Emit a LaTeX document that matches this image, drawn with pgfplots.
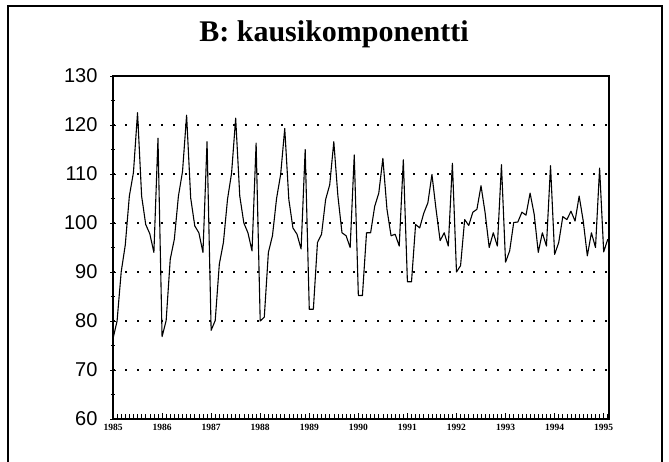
\documentclass[border=0pt]{standalone}
\usepackage{pgfplots}
\pgfplotsset{compat=1.18}
\usepackage{pgfplotstable}
\usepackage{fontspec}
\setmainfont{Liberation Serif}
\newfontfamily\arial{Liberation Sans}

\pgfplotstableread{
val
76.4
80.0
90.0
95.5
105.5
110.3
122.5
105.5
99.7
97.8
94.0
117.3
76.8
80.1
92.6
96.7
105.5
110.5
122.0
105.1
99.4
98.0
94.0
116.6
78.1
80.1
91.6
96.0
104.8
110.2
121.4
105.5
100.0
98.0
94.3
116.3
80.0
80.8
94.0
97.4
105.0
109.9
119.3
104.8
99.0
97.7
94.7
115.0
82.4
82.4
96.0
97.7
104.8
107.8
116.6
105.5
98.0
97.4
95.0
113.9
85.2
85.2
98.0
98.0
103.4
106.1
113.2
102.8
97.4
97.7
95.3
112.9
88.0
88.0
99.7
99.0
102.0
104.1
109.9
102.8
96.4
98.0
95.3
112.2
90.0
91.3
100.7
99.5
102.2
102.8
107.6
102.1
95.0
98.0
95.3
111.9
92.0
94.3
100.1
100.2
102.2
101.6
106.1
101.8
94.0
98.0
95.3
111.7
93.6
96.0
101.3
100.7
102.4
100.4
105.5
100.4
93.3
98.0
95.0
111.2
94.1
96.7
}\seasonal

\begin{document}
\begin{tikzpicture}[x=1pt,y=1pt]
\useasboundingbox (0,0) rectangle (669,462);
\draw[line width=1.2pt] (8,-2) -- (8,456) -- (662,456) -- (662,-2);
\node[font=\fontsize{30}{32}\selectfont\bfseries, anchor=base] at (334,420) {B: kausikomponentti};
\begin{axis}[
  at={(113pt,43pt)}, anchor=south west,
  scale only axis, width=496pt, height=343pt,
  xmin=0, xmax=121.3, ymin=60, ymax=130,
  axis line style={line width=1.1pt},
  xtick={0,12,...,120},
  xticklabels={1985,1986,1987,1988,1989,1990,1991,1992,1993,1994,1995},
  minor xtick={1,...,121},
  xtick align=inside, xtick pos=bottom, ytick pos=left,
  x tick label style={font=\fontsize{9.5}{10}\selectfont\bfseries, yshift=-2pt},
  ytick={60,70,...,130},
  minor ytick={65,75,...,125},
  ytick align=center,
  major tick length=6pt, minor tick length=4.5pt,
  tick style={line width=0.8pt, black},
  minor x tick style={line width=0.6pt},
  y tick label style={font=\arial\fontsize{20}{20}\selectfont, xshift=-9pt},
  /pgf/number format/assume math mode=true,
  ymajorgrids,
  major grid style={line width=1.1pt, dash pattern=on 1.6pt off 10.4pt, black},
  clip=false,
]
\addplot[black, line width=1.1pt, line join=round] table[x expr=\coordindex, y index=0] {\seasonal};
\end{axis}
\end{tikzpicture}
\end{document}
